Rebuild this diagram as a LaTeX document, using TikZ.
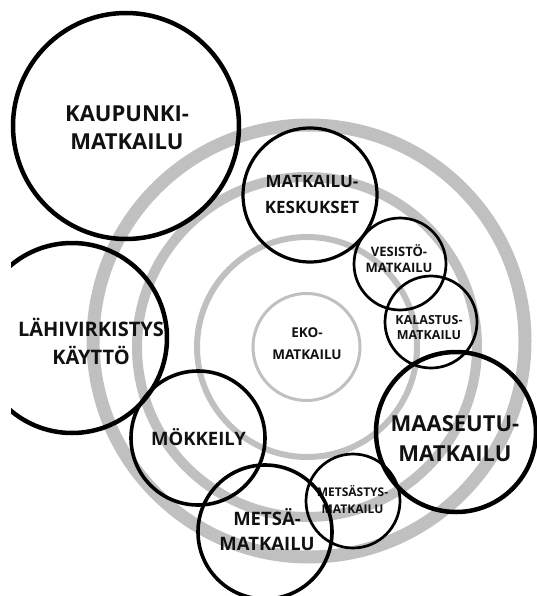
\documentclass[tikz,border=0pt]{standalone}
\usepackage{fontspec}
\setmainfont{Open Sans}
\usepackage{xcolor}
\definecolor{ringgray}{RGB}{192,192,192}
\definecolor{inkblack}{RGB}{17,17,17}
\tikzstyle{zone} = [circle, draw=black, line width=3.2pt, inner sep=0pt]
\tikzstyle{ring} = [draw=ringgray]
\tikzstyle{zonetext} = [align=center, inner sep=0pt, text=inkblack]
\newcommand{\fs}[2]{\bfseries\fontsize{#1}{#2}\selectfont}

\begin{document}
\begin{tikzpicture}[x=1pt, y=-1pt]
\useasboundingbox (0,0) rectangle (537,596);

% ===== GRAY RINGS =====
\draw [ring, line width=6pt] (307,347) circle [radius=110pt];
\draw [ring, line width=10pt] (307,347) circle [radius=170pt];
\draw [ring, line width=13pt] (309,341) circle [radius=216pt];

% ===== CENTRE =====
\node (eko) [zone, draw=ringgray, line width=3pt, minimum size=107pt] at (306.5,347) {};
\node (ekotxt) [zonetext, font=\fs{13.5}{22}] at (307,344) {EKO-\\MATKAILU};

% ===== OUTER ZONES =====
\node (kaupunki) [zone, line width=4.5pt, minimum size=226pt] at (126,126) {};
\node (kaupunkitxt) [zonetext, font=\fs{22}{28}] at (127,127.5) {KAUPUNKI-\\MATKAILU};

\begin{scope}
\clip (11,0) rectangle (537,596);
\node (lahi) [zone, line width=4.5pt, minimum size=190pt] at (72,338) {};
\node (lahitxt) [zonetext, font=\fs{20}{28}] at (91,341) {LÄHIVIRKISTYS\\KÄYTTÖ};
\end{scope}

\node (maaseutu) [zone, line width=4.5pt, minimum size=160pt] at (456,432) {};
\node (maaseututxt) [zonetext, font=\fs{22}{30}] at (455,439) {MAASEUTU-\\MATKAILU};

% ===== RING ZONES =====
\node (keskukset) [zone, minimum size=134pt] at (310,195) {};
\node (keskuksettxt) [zonetext, font=\fs{17}{26}] at (312,194) {MATKAILU-\\KESKUKSET};

\node (vesisto) [zone, line width=2.7pt, minimum size=92pt] at (400,264) {};
\node (vesistotxt) [zonetext, font=\fs{13}{16}] at (399,259) {VESISTÖ-\\MATKAILU};

\node (kalastus) [zone, line width=2.7pt, minimum size=92pt] at (431,322) {};
\node (kalastustxt) [zonetext, font=\fs{12.5}{15}] at (429,328) {KALASTUS-\\MATKAILU};

\node (metsastys) [zone, line width=2.7pt, minimum size=94pt] at (353,501) {};
\node (metsastystxt) [zonetext, font=\fs{12}{17}] at (352.5,500) {METSÄSTYS-\\MATKAILU};

\node (metsa) [zone, line width=3.6pt, minimum size=134pt] at (265,532) {};
\node (metsatxt) [zonetext, font=\fs{18.5}{25}] at (267,529.5) {METSÄ-\\MATKAILU};

\node (mokkeily) [zone, line width=3.6pt, minimum size=134pt] at (198,438) {};
\node (mokkeilytxt) [zonetext, font=\fs{18.5}{22}] at (198.5,437) {MÖKKEILY};

\end{tikzpicture}
\end{document}
